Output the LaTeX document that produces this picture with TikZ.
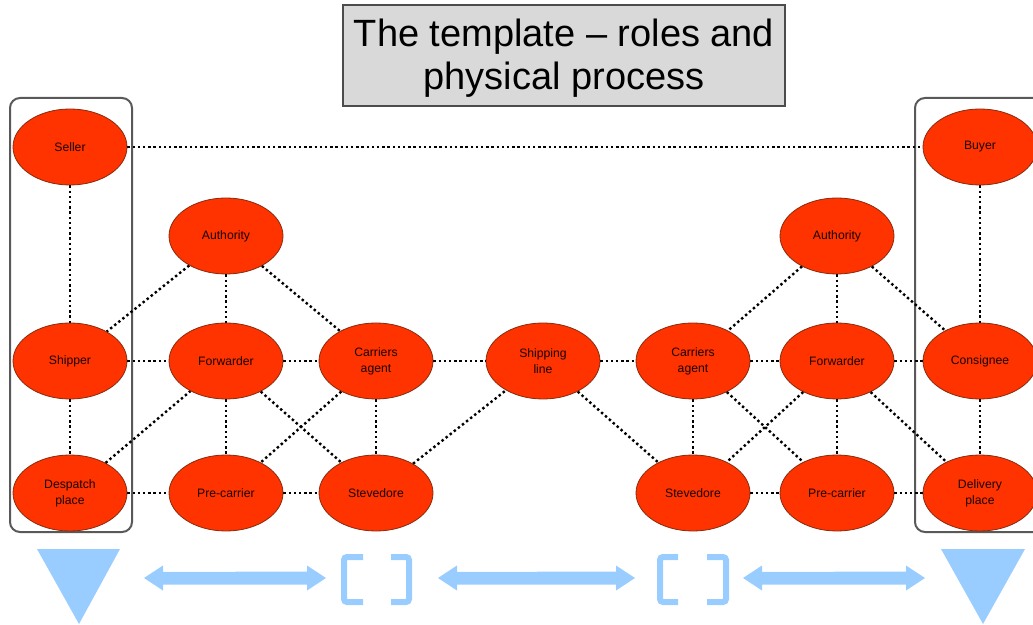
\documentclass[tikz,border=0pt]{standalone}
\usepackage{fontspec}
\setmainfont{Liberation Sans}
\usetikzlibrary{shapes.geometric, positioning}

\definecolor{rolered}{HTML}{FF3300}
\definecolor{roleedge}{HTML}{8A2A0E}
\definecolor{flowblue}{HTML}{99CCFF}
\definecolor{titlegray}{HTML}{D9D9D9}

\tikzset{
  role/.style={ellipse, draw=roleedge, line width=0.4pt, fill=rolered,
    minimum width=57pt, minimum height=38pt, inner sep=0pt,
    font=\fontsize{6.1}{8}\selectfont, text=black!90!red, align=center},
  link/.style={line width=1.2pt, dash pattern=on 1.2pt off 1.4pt},
  party/.style={draw=black!65, line width=1pt, rounded corners=5pt},
  bracket/.style={draw=flowblue, line width=3pt, rounded corners=1.5pt}
}

\newcommand{\flowarrow}[2]{%
  \fill[flowblue] (#1,578) -- ++(19,-12.5) -- ++(0,6.5) -- (#2-19,571.5)
    -- ++(0,-6) -- (#2,578) -- (#2-19,590.5) -- ++(0,-6) -- (#1+19,584.5)
    -- ++(0,6) -- cycle;}

\begin{document}
\begin{tikzpicture}[x=0.5pt, y=-0.5pt]
  \useasboundingbox (0,0) rectangle (1033,625);

  % title
  \node (titlebox) [draw=black!70, line width=1pt, fill=titlegray,
    minimum width=221pt, minimum height=50.5pt] at (564,55.5) {};
  \node (title) [align=center, font=\fontsize{19}{21.5}\selectfont]
    at (564,58.5) {The template -- roles and\\physical process};

  % party boxes
  \draw [party] (10,98) rectangle (132,532);
  \draw [party] (915,98) rectangle (1045,532);

  % roles
  \node (seller) [role] at (70,147) {Seller};
  \node (buyer) [role] at (980,147) {Buyer};
  \node (authL) [role] at (226,236) {Authority};
  \node (authR) [role] at (837,236) {Authority};

  \node (shipper) [role] at (70,361) {Shipper};
  \node (fwdL) [role] at (226,361) {Forwarder};
  \node (agentL) [role] at (376,361) {Carriers\\agent};
  \node (line) [role] at (543,361) {Shipping\\line};
  \node (agentR) [role] at (693,361) {Carriers\\agent};
  \node (fwdR) [role] at (837,361) {Forwarder};
  \node (consignee) [role] at (980,361) {Consignee};

  \node (despatch) [role] at (70,493) {Despatch\\place};
  \node (preL) [role] at (226,493) {Pre-carrier};
  \node (stevL) [role] at (376,493) {Stevedore};
  \node (stevR) [role] at (693,493) {Stevedore};
  \node (preR) [role] at (837,493) {Pre-carrier};
  \node (delivery) [role] at (980,493) {Delivery\\place};

  % relations
  \draw [link] (seller) -- (buyer);
  \draw [link] (seller) -- (shipper);
  \draw [link] (buyer) -- (consignee);
  \draw [link] (shipper) -- (despatch);
  \draw [link] (consignee) -- (delivery);

  \draw [link] (authL) -- (shipper);
  \draw [link] (authL) -- (fwdL);
  \draw [link] (authL) -- (agentL);
  \draw [link] (authR) -- (agentR);
  \draw [link] (authR) -- (fwdR);
  \draw [link] (authR) -- (consignee);

  \draw [link] (shipper) -- (fwdL);
  \draw [link] (fwdL) -- (agentL);
  \draw [link] (agentL) -- (line);
  \draw [link] (line) -- (agentR);
  \draw [link] (agentR) -- (fwdR);
  \draw [link] (fwdR) -- (consignee);

  \draw [link] (despatch) -- (preL);
  \draw [link] (preL) -- (stevL);
  \draw [link] (stevR) -- (preR);
  \draw [link] (preR) -- (delivery);

  \draw [link] (despatch) -- (fwdL);
  \draw [link] (fwdL) -- (preL);
  \draw [link] (fwdL) -- (stevL);
  \draw [link] (agentL) -- (preL);
  \draw [link] (agentL) -- (stevL);
  \draw [link] (stevL) -- (line);
  \draw [link] (line) -- (stevR);
  \draw [link] (agentR) -- (stevR);
  \draw [link] (agentR) -- (preR);
  \draw [link] (fwdR) -- (stevR);
  \draw [link] (fwdR) -- (preR);
  \draw [link] (fwdR) -- (delivery);

  % physical flow
  \fill [flowblue] (37,549) -- (120,549) -- (79,624) -- cycle;
  \fill [flowblue] (941,549) -- (1025,549) -- (983,624) -- cycle;
  \flowarrow{144}{326}
  \flowarrow{438}{635}
  \flowarrow{743}{925}
  \draw [bracket] (363,557) -- (344,557) -- (344,602) -- (363,602);
  \draw [bracket] (391,557) -- (409,557) -- (409,602) -- (391,602);
  \draw [bracket] (678,557) -- (660,557) -- (660,602) -- (678,602);
  \draw [bracket] (707,557) -- (726,557) -- (726,602) -- (707,602);
\end{tikzpicture}
\end{document}
